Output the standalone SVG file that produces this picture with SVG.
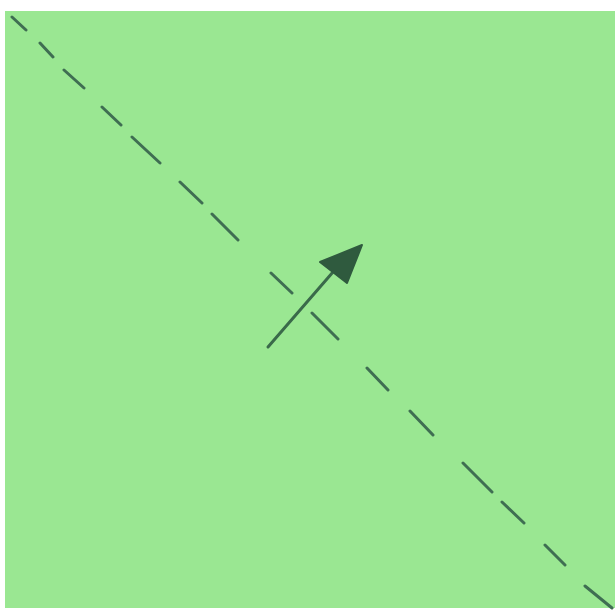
<svg xmlns="http://www.w3.org/2000/svg" width="615" height="613" viewBox="0 0 615 613">
<style>
.d{stroke:#3f6e52;stroke-width:3;stroke-linecap:round;fill:none}
</style>
<rect x="0" y="0" width="615" height="613" fill="#ffffff"/>
<rect x="5" y="11" width="612" height="597" fill="#9ae792"/>
<g id="connectors">
<path class="d" d="M12 17L26 30M40 43L53 57M64 70L84 88M102 107L121 125M132 137L160 163M180 182L202 203M212 214L238 240M271 273L292 293M312 313L338 339M367 368L388 390M410 411L433 435M463 463L492 492M502 502L524 523M545 545L565 565M585 586L612 608"/>
<line x1="268" y1="347" x2="333" y2="272" stroke="#3a6a4a" stroke-width="3" stroke-linecap="round"/>
<polygon points="320,262 362,245 347,283" fill="#2f5a3e" stroke="#2f5a3e" stroke-width="2" stroke-linejoin="round"/>
</g>
</svg>
